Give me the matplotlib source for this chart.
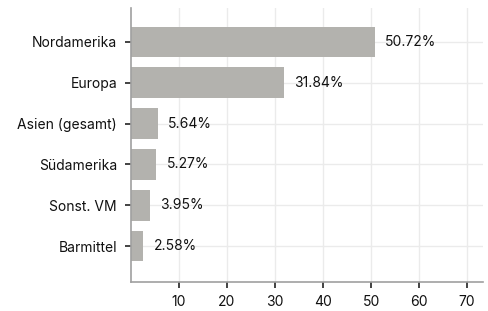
import numpy as np
from matplotlib import pyplot as plt

# Daten
categories = ["Nordamerika", "Europa", "Asien (gesamt)", "Südamerika", "Sonst. VM", "Barmittel"]
values = [50.72, 31.84, 5.64, 5.27, 3.95, 2.58]
x_ticks = [10, 20, 30, 40, 50, 60, 70]

plt.rcParams['font.family'] = ['Inter', 'DejaVu Sans']

fig = plt.figure(figsize=(4.89, 3.11), dpi=100)
ax = fig.add_axes([131 / 489, 1 - 282 / 311, (483 - 131) / 489, (282 - 8) / 311])

y = np.arange(len(categories))
ax.barh(y, values, height=0.75, color="#b3b2ae", zorder=2)
for yi, v in zip(y, values):
    ax.text(v + 2.1, yi, f"{v:.2f}%", va="center", ha="left", fontsize=10, color="#111111")

ax.set_yticks(y)
ax.set_yticklabels(categories)
ax.set_xticks(x_ticks)
ax.set_xlim(0, 73.3)
ax.set_ylim(5.88, -0.83)

ax.grid(True, color="#ebebeb", linewidth=1, zorder=0)
ax.set_axisbelow(True)
for s in ["top", "right"]:
    ax.spines[s].set_visible(False)
for s in ["left", "bottom"]:
    ax.spines[s].set_color("#a0a0a0")
    ax.spines[s].set_linewidth(1.2)
ax.tick_params(axis="both", length=4, width=1.2, color="#222222", labelsize=10, labelcolor="#111111")
ax.tick_params(axis="y", pad=6)
ax.tick_params(axis="x", pad=5)

plt.savefig("out.png", dpi=100)
